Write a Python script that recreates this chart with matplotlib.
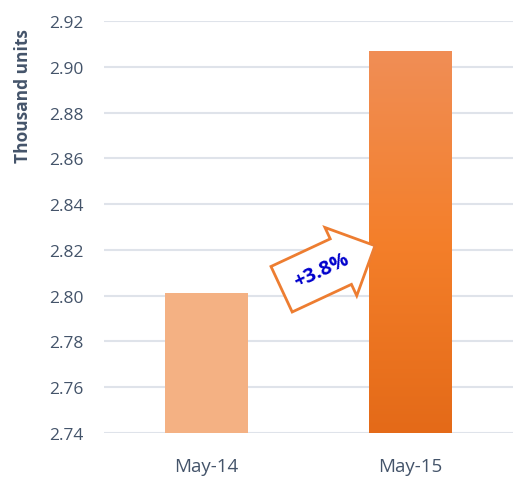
import matplotlib
matplotlib.use("Agg")
import matplotlib.pyplot as plt
import numpy as np
from matplotlib.colors import LinearSegmentedColormap

categories = ["May-14", "May-15"]
values = [2.801, 2.907]
y_ticks = [2.74, 2.76, 2.78, 2.80, 2.82, 2.84, 2.86, 2.88, 2.90, 2.92]
change_label = "+3.8%"

TEXT_COLOR = "#44546A"
GRID_COLOR = "#DFE3EA"

plt.rcParams["font.family"] = ["Open Sans", "DejaVu Sans"]

fig = plt.figure(figsize=(5.13, 4.81), dpi=100)
ax = fig.add_axes([104 / 513, 47 / 481, 409 / 513, 412 / 481])

x = np.arange(len(categories))
bars = ax.bar(x, values, width=0.405, color=["#F4B183", "none"], zorder=2)

# gradient fill for the second bar
grad = LinearSegmentedColormap.from_list("g", ["#E46A18", "#F47F2A", "#F08E56"])
b = bars[1]
x0, w = b.get_x(), b.get_width()
img = ax.imshow(np.linspace(0, 1, 256).reshape(-1, 1), cmap=grad, origin="lower",
                extent=[x0, x0 + w, y_ticks[0], values[1]], aspect="auto", zorder=2)
img.set_clip_path(b)

ax.set_xlim(-0.5, 1.5)
ax.set_ylim(y_ticks[0], y_ticks[-1])
ax.set_yticks(y_ticks)
ax.set_yticklabels([f"{t:.2f}" for t in y_ticks])
ax.set_xticks(x)
ax.set_xticklabels(categories)
ax.grid(axis="y", color=GRID_COLOR, linewidth=1.5, zorder=0)
for s in ax.spines.values():
    s.set_visible(False)
ax.tick_params(length=0, colors=TEXT_COLOR, labelsize=12.5)
ax.tick_params(axis="x", pad=17, labelsize=13.5)
ax.tick_params(axis="y", pad=15)
ax.set_ylabel("Thousand units", color=TEXT_COLOR, fontsize=12.5, fontweight="bold")
ax.yaxis.set_label_coords(-0.175, 0.82)

# growth arrow between the bars
ax.text(0.565, 2.811, change_label, rotation=25, ha="center", va="center",
        color="#0000CC", fontsize=14.5, fontweight="bold", zorder=3,
        bbox=dict(boxstyle="rarrow,pad=0.75", fc="white", ec="#ED7D31", lw=2))

fig.savefig("out.png", dpi=100)
